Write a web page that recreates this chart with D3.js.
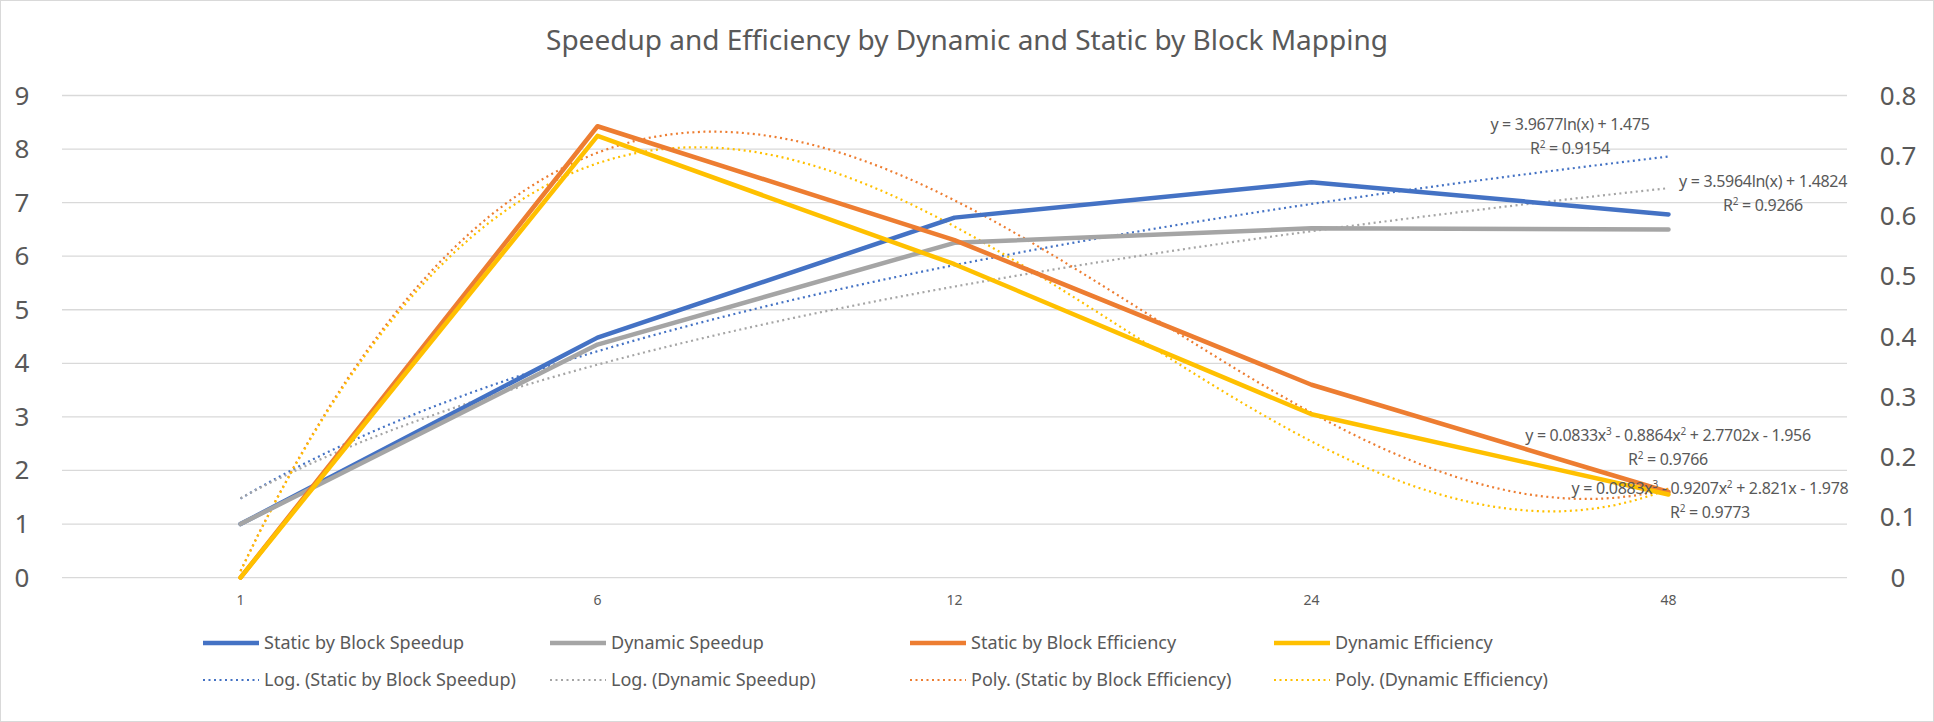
<!DOCTYPE html>
<html><head><meta charset="utf-8">
<script src="https://cdn.jsdelivr.net/npm/d3@7"></script>
<style>body{margin:0;background:#fff}svg{font-family:"Noto Sans","Open Sans",sans-serif}</style>
</head><body><svg id="c" width="1934" height="722"></svg>
<script>
const categories = ["1","6","12","24","48"];
const staticSpeedup = [1, 4.48, 6.72, 7.38, 6.78];
const dynamicSpeedup = [1, 4.35, 6.25, 6.52, 6.5];
const staticEff = [0, 0.749, 0.56, 0.32, 0.142];
const dynamicEff = [0, 0.733, 0.52, 0.271, 0.138];
const leftTicks = [0,1,2,3,4,5,6,7,8,9];
const rightTicks = [0,0.1,0.2,0.3,0.4,0.5,0.6,0.7,0.8];
const logStatic = [3.9677, 1.475], logDynamic = [3.5964, 1.4824];
const polyStatic = [0.0833, -0.8864, 2.7702, -1.956], polyDynamic = [0.0883, -0.9207, 2.821, -1.978];

const svg = d3.select("#c");
svg.append("rect").attr("x",0.5).attr("y",0.5).attr("width",1933).attr("height",721).attr("fill","#fff").attr("stroke","#d9d9d9");
const L=62,R=1847,T=95.5,B=577.6;
const x = d3.scaleBand().domain(categories).range([L,R]);
const xc = c => x(c)+x.bandwidth()/2;
const xi = d3.scaleLinear().domain([1,5]).range([xc("1"), xc("48")]);
const yL = d3.scaleLinear().domain([0,9]).range([B,T]);
const yR = d3.scaleLinear().domain([0,0.8]).range([B,T]);
const gray="#595959";
svg.append("text").attr("x",967).attr("y",50).attr("text-anchor","middle").attr("font-size",28).attr("fill",gray).text("Speedup and Efficiency by Dynamic and Static by Block Mapping");
svg.append("g").selectAll("line").data(leftTicks).join("line").attr("x1",L).attr("x2",R).attr("y1",d=>yL(d)).attr("y2",d=>yL(d)).attr("stroke","#d9d9d9").attr("stroke-width",1.3);
svg.append("g").selectAll("text").data(leftTicks).join("text").attr("x",22).attr("y",d=>yL(d)+9).attr("text-anchor","middle").attr("font-size",26).attr("fill",gray).text(d=>d);
svg.append("g").selectAll("text").data(rightTicks).join("text").attr("x",1898).attr("y",d=>yR(d)+9).attr("text-anchor","middle").attr("font-size",26).attr("fill",gray).text(d=>d);
svg.append("g").selectAll("text").data(categories).join("text").attr("x",d=>xc(d)).attr("y",605).attr("text-anchor","middle").attr("font-size",14).attr("fill",gray).text(d=>d);

const trend = (f, ys, color) => {
  const pts = d3.range(1,5.001,0.05).map(t=>[xi(t), ys(f(t))]);
  svg.append("path").attr("d",d3.line()(pts)).attr("fill","none").attr("stroke",color).attr("stroke-width",2.2).attr("stroke-dasharray","2 3.5");
};
const lg = c => t => c[0]*Math.log(t)+c[1];
const pl = c => t => c[0]*t*t*t+c[1]*t*t+c[2]*t+c[3];
const blue="#4472c4", grey="#a5a5a5", orange="#ed7d31", yellow="#ffc000";
trend(lg(logStatic), yL, blue);
trend(lg(logDynamic), yL, grey);
trend(pl(polyStatic), yR, orange);
trend(pl(polyDynamic), yR, yellow);

const series = [[staticSpeedup,yL,blue],[dynamicSpeedup,yL,grey],[staticEff,yR,orange],[dynamicEff,yR,yellow]];
series.forEach(([v,ys,c])=>{
  svg.append("path").attr("d",d3.line()(v.map((d,i)=>[xc(categories[i]), ys(d)]))).attr("fill","none").attr("stroke",c).attr("stroke-width",4.5).attr("stroke-linejoin","round").attr("stroke-linecap","round");
});

const lab = (cx,y,eq,r2) => {
  const t = svg.append("text").attr("x",cx).attr("y",y).attr("text-anchor","middle").attr("font-size",16).attr("fill",gray).attr("letter-spacing",-0.3);
  eq.forEach(p=>{ const s=t.append("tspan").text(p[0]); if(p[1]) s.attr("font-size",10).attr("dy",-6); else if(p[2]) s.attr("dy",6);});
  const u = svg.append("text").attr("x",cx).attr("y",y+24).attr("text-anchor","middle").attr("font-size",16).attr("fill",gray).attr("letter-spacing",-0.3);
  u.append("tspan").text("R"); u.append("tspan").text("2").attr("font-size",10).attr("dy",-6); u.append("tspan").text(" = "+r2).attr("dy",6);
};
lab(1570,130,[["y = 3.9677ln(x) + 1.475"]],"0.9154");
lab(1763,187,[["y = 3.5964ln(x) + 1.4824"]],"0.9266");
lab(1668,441,[["y = 0.0833x"],["3",1],[" - 0.8864x",0,1],["2",1],[" + 2.7702x - 1.956",0,1]],"0.9766");
lab(1710,494,[["y = 0.0883x"],["3",1],[" - 0.9207x",0,1],["2",1],[" + 2.821x - 1.978",0,1]],"0.9773");

const legend = [
 ["Static by Block Speedup",blue,0,203,643],["Dynamic Speedup",grey,0,550,643],["Static by Block Efficiency",orange,0,910,643],["Dynamic Efficiency",yellow,0,1274,643],
 ["Log. (Static by Block Speedup)",blue,1,203,680],["Log. (Dynamic Speedup)",grey,1,550,680],["Poly. (Static by Block Efficiency)",orange,1,910,680],["Poly. (Dynamic Efficiency)",yellow,1,1274,680]];
legend.forEach(([n,c,d,lx,ly])=>{
  const l=svg.append("line").attr("x1",lx).attr("x2",lx+56).attr("y1",ly).attr("y2",ly).attr("stroke",c);
  if(d) l.attr("stroke-width",2.2).attr("stroke-dasharray","2 3.5"); else l.attr("stroke-width",4.5);
  svg.append("text").attr("x",lx+61).attr("y",ly+6).attr("font-size",18).attr("fill",gray).text(n);
});
</script></body></html>
